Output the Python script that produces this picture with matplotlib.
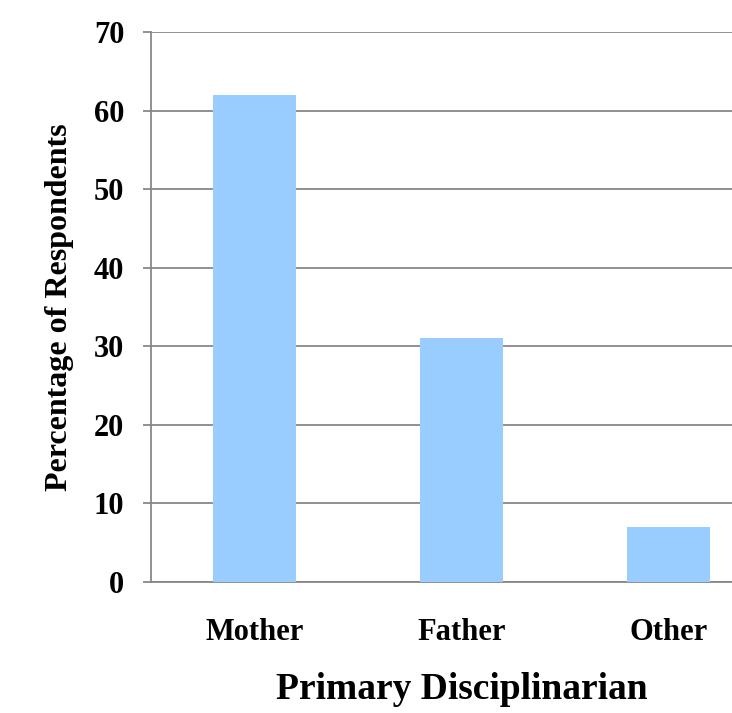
import matplotlib.pyplot as plt
import numpy as np

categories = ['Mother', 'Father', 'Other']
percentages = [62, 31, 7]
y_ticks = [0, 10, 20, 30, 40, 50, 60, 70]

plt.rcParams['font.family'] = ['Liberation Serif', 'DejaVu Serif']
plt.rcParams['font.weight'] = 'bold'

fig = plt.figure(figsize=(7.32, 7.13), dpi=100)
# the plot area runs off the right edge, like the original picture
ax = fig.add_axes([0.206, 0.1837, 0.849, 0.7714])

x = np.arange(len(categories))
ax.bar(x, percentages, width=0.4, color='#99CCFF', zorder=3)

ax.set_xlim(-0.5, 2.5)
ax.set_ylim(0, 70)
ax.set_yticks(y_ticks)
ax.set_xticks(x)
ax.set_xticklabels(categories)

ax.yaxis.grid(True, color='#888888', linewidth=1.3, zorder=0)
for side in ['top', 'right']:
    ax.spines[side].set_visible(False)
ax.spines['left'].set_color('#888888')
ax.spines['bottom'].set_color('#888888')
ax.spines['left'].set_linewidth(1.3)
ax.spines['bottom'].set_linewidth(1.3)

ax.tick_params(axis='y', length=6, width=1.3, color='#888888', pad=13, labelsize=22)
ax.tick_params(axis='x', length=0, pad=26, labelsize=22)

ax.set_xlabel('Primary Disciplinarian', fontsize=27, fontweight='bold', labelpad=18)
ax.set_ylabel('Percentage of Respondents', fontsize=23, fontweight='bold', labelpad=14)

fig.savefig('out.png', dpi=100)
